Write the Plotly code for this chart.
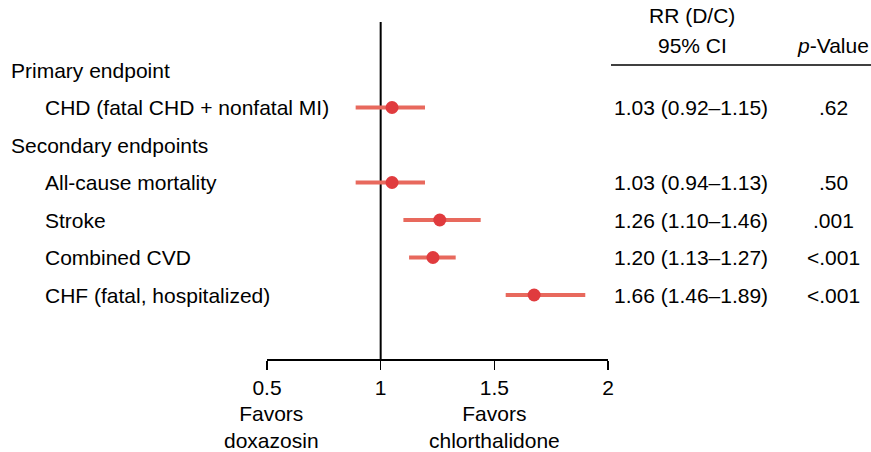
import plotly.graph_objects as go

# ---- data ----
row_labels = ["Primary endpoint", "CHD (fatal CHD + nonfatal MI)", "Secondary endpoints",
              "All-cause mortality", "Stroke", "Combined CVD", "CHF (fatal, hospitalized)"]
row_indent = [False, True, False, True, True, True, True]
endpoint_rows = [1, 3, 4, 5, 6]
rr_est = [1.05, 1.05, 1.26, 1.23, 1.675]
rr_low = [0.89, 0.89, 1.10, 1.125, 1.55]
rr_high = [1.195, 1.195, 1.44, 1.33, 1.90]
rr_text = ["1.03 (0.92\u20131.15)", "1.03 (0.94\u20131.13)", "1.26 (1.10\u20131.46)",
           "1.20 (1.13\u20131.27)", "1.66 (1.46\u20131.89)"]
p_text = [".62", ".50", ".001", "<.001", "<.001"]
x_ticks = [0.5, 1, 1.5, 2]
x_tick_labels = ["0.5", "1", "1.5", "2"]

# ---- layout helpers (page pixel coordinates) ----
W, H = 871, 452
PL, PR, PT, PB = 267, 608, 0, 359          # plot area in page pixels
FONT = "Liberation Sans, Arial, Helvetica, sans-serif"
FS = 21
LINE_COL = "#E8695D"
DOT_COL = "#E03B3E"


def px(x):
    return (x - PL) / (PR - PL)


def py(y):
    return (PB - y) / (PB - PT)


def row_of(ypix):
    return (ypix - 70) / 37.5


y_top = row_of(PT)
y_bot = row_of(PB)

fig = go.Figure()
fig.add_trace(go.Scatter(
    x=rr_est, y=endpoint_rows, mode="markers",
    marker=dict(size=13, color=DOT_COL),
    error_x=dict(type="data", symmetric=False,
                 array=[h - e for h, e in zip(rr_high, rr_est)],
                 arrayminus=[e - l for e, l in zip(rr_est, rr_low)],
                 width=0, thickness=4, color=LINE_COL),
    showlegend=False, hoverinfo="skip", cliponaxis=False,
))

# reference line at RR = 1
fig.add_shape(type="line", xref="x", yref="y", x0=1, x1=1, y0=row_of(22), y1=y_bot,
              line=dict(color="black", width=2), layer="below")
# header separator
fig.add_shape(type="line", xref="paper", yref="paper", x0=px(611), x1=px(871),
              y0=py(65), y1=py(65), line=dict(color="black", width=1.5))

ann = []
for i, (lab, ind) in enumerate(zip(row_labels, row_indent)):
    ann.append(dict(x=px(43 if ind else 9), y=i, xref="paper", yref="y", text=lab,
                    xanchor="left", yanchor="middle", showarrow=False))
for r, t, p in zip(endpoint_rows, rr_text, p_text):
    ann.append(dict(x=px(612), y=r, xref="paper", yref="y", text=t,
                    xanchor="left", yanchor="middle", showarrow=False))
    ann.append(dict(x=px(833), y=r, xref="paper", yref="y", text=p,
                    xanchor="center", yanchor="middle", showarrow=False))
ann.append(dict(x=px(692), y=py(16), xref="paper", yref="paper", text="RR (D/C)",
                xanchor="center", yanchor="middle", showarrow=False))
ann.append(dict(x=px(692), y=py(45), xref="paper", yref="paper", text="95% CI",
                xanchor="center", yanchor="middle", showarrow=False))
ann.append(dict(x=px(871), y=py(45), xref="paper", yref="paper", text="<i>p</i>-Value",
                xanchor="right", yanchor="middle", showarrow=False))
ann.append(dict(x=px(271), y=py(427), xref="paper", yref="paper", text="Favors<br>doxazosin",
                xanchor="center", yanchor="middle", showarrow=False))
ann.append(dict(x=px(494), y=py(427), xref="paper", yref="paper", text="Favors<br>chlorthalidone",
                xanchor="center", yanchor="middle", showarrow=False))

fig.update_layout(
    width=W, height=H,
    margin=dict(l=PL, r=W - PR, t=PT, b=H - PB, pad=0),
    paper_bgcolor="white", plot_bgcolor="white",
    font=dict(family=FONT, size=FS, color="black"),
    annotations=ann,
    xaxis=dict(range=[0.5, 2], tickvals=x_ticks, ticktext=x_tick_labels,
               showline=True, linecolor="black", linewidth=1.5,
               ticks="outside", ticklen=9, tickwidth=1.5, tickcolor="black",
               showgrid=False, zeroline=False, fixedrange=True,
               tickfont=dict(family=FONT, size=FS, color="black")),
    yaxis=dict(range=[y_bot, y_top], visible=False, showgrid=False, zeroline=False,
               fixedrange=True),
)

fig.write_html(
    "out.html",
    config={"displayModeBar": False, "staticPlot": True},
    post_script="document.body.style.margin='0';document.body.style.overflow='hidden';",
)
